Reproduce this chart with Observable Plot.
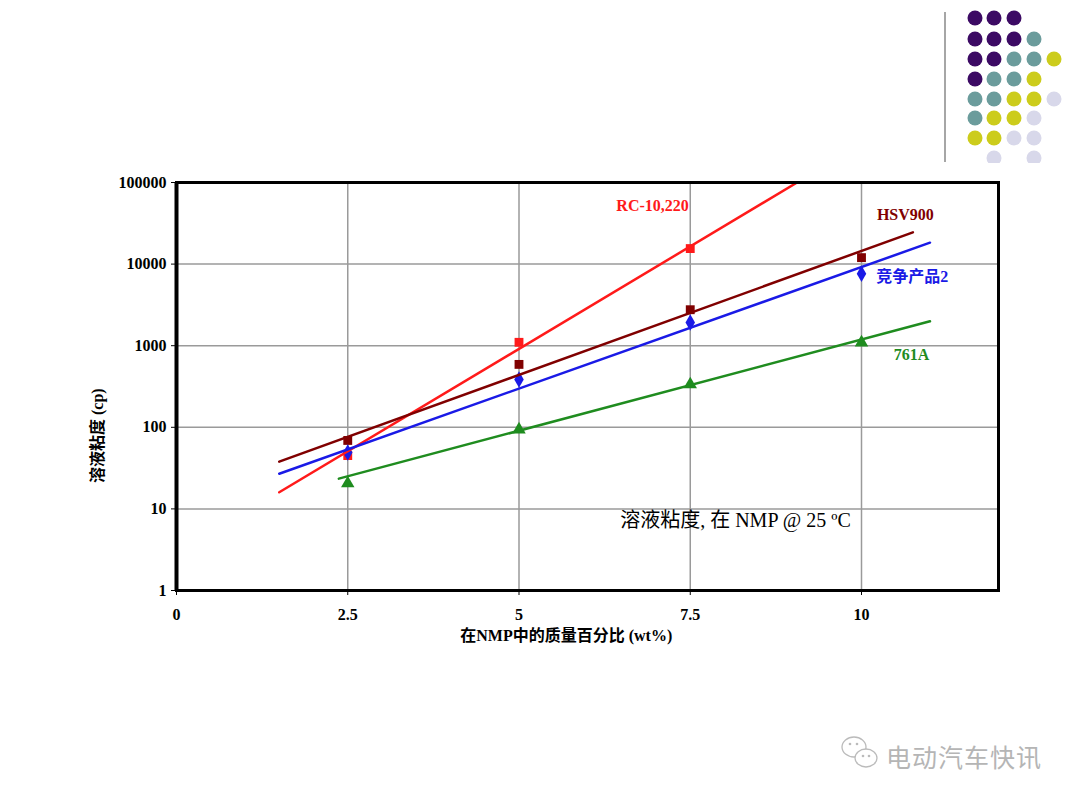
<!DOCTYPE html>
<html>
<head>
<meta charset="utf-8">
<script src="https://cdn.jsdelivr.net/npm/d3@7"></script>
<script src="https://cdn.jsdelivr.net/npm/@observablehq/plot@0.6"></script>
<style>
  html, body { margin: 0; padding: 0; background: #fff; }
  #wrap { position: relative; width: 1080px; height: 803px; overflow: hidden; }
  #chart { position: absolute; left: 0; top: 0; }
  #deco { position: absolute; left: 0; top: 0; }
  .wm { position: absolute; left: 886px; top: 738px; font-family: "Noto Sans CJK SC", sans-serif; font-size: 25px; color: #b5b5b5; letter-spacing: 1px; }
</style>
</head>
<body>
<div id="wrap">
  <div id="chart"></div>
  <svg id="deco" width="1080" height="803"></svg>
  <div class="wm">电动汽车快讯</div>
</div>
<script>
// ---- data ----
const xTicks = [0, 2.5, 5, 7.5, 10];
const yTicks = [1, 10, 100, 1000, 10000, 100000];
const concentration = [2.5, 5, 7.5, 10];

const seriesNames = ["RC-10,220", "HSV900", "竞争产品2", "761A"];
const seriesColors = ["#ff1a1a", "#800000", "#1a1ae6", "#1f8c1f"];
const seriesSymbols = ["square", "square", "diamond", "triangle"];

const rcValues = [45, 1100, 15500];           // RC-10,220 (no 10 wt% point)
const hsvValues = [69, 590, 2760, 12000];     // HSV900
const compValues = [49, 385, 1920, 7600];     // 竞争产品2
const a761Values = [20.5, 94, 335, 1090];     // 761A

// trend line endpoints
const rcTrendX = [1.5, 9.06];
const rcTrendY = [16, 100000];
const hsvTrendX = [1.5, 10.75];
const hsvTrendY = [38, 24500];
const compTrendX = [1.5, 11.0];
const compTrendY = [27, 18300];
const a761TrendX = [2.37, 11.0];
const a761TrendY = [23.5, 1990];

const labelX = [6.95, 10.64, 10.74, 10.73];
const labelY = [52000, 40500, 7050, 780];

// ---- build tables ----
const valueSets = [rcValues, hsvValues, compValues, a761Values];
const trendSets = [[rcTrendX, rcTrendY], [hsvTrendX, hsvTrendY], [compTrendX, compTrendY], [a761TrendX, a761TrendY]];
const points = [];
valueSets.forEach((vals, i) => vals.forEach((v, j) => points.push({series: seriesNames[i], x: concentration[j], y: v, symbol: seriesSymbols[i]})));
const trends = [];
trendSets.forEach(([xs, ys], i) => xs.forEach((x, j) => trends.push({series: seriesNames[i], x, y: ys[j]})));
const labels = seriesNames.map((s, i) => ({series: s, x: labelX[i], y: labelY[i]}));

const serif = "'Liberation Serif', 'Times New Roman', 'Noto Sans CJK SC', serif";

const chart = Plot.plot({
  width: 1080,
  height: 803,
  marginLeft: 176,
  marginRight: 82,
  marginTop: 182,
  marginBottom: 213,
  style: {fontFamily: serif, fontSize: "16px", fontWeight: "bold", color: "#000", background: "transparent"},
  x: {domain: [0, 12], ticks: xTicks, tickFormat: d => String(d)},
  y: {type: "log", domain: [1, 100000], ticks: yTicks, tickFormat: d => String(d)},
  color: {domain: seriesNames, range: seriesColors},
  symbol: {domain: seriesSymbols, range: seriesSymbols},
  marks: [
    Plot.gridX(concentration, {stroke: "#9a9a9a", strokeOpacity: 1, strokeWidth: 1.5}),
    Plot.gridY([10, 100, 1000, 10000], {stroke: "#9a9a9a", strokeOpacity: 1, strokeWidth: 1.5}),
    Plot.dot(points, {x: "x", y: "y", fill: "series", symbol: "symbol", r: 5, clip: true}),
    Plot.line(trends, {x: "x", y: "y", z: "series", stroke: "series", strokeWidth: 2.5, clip: true}),
    Plot.text(labels, {x: "x", y: "y", text: "series", fill: "series", fontSize: 16, fontWeight: "bold", textAnchor: "middle"}),
    Plot.text(["溶液粘度, 在 NMP @ 25 ºC"], {x: 8.16, y: 7.2, fontSize: 20, fontWeight: "normal", fill: "#000", textAnchor: "middle"}),
    Plot.axisY({ticks: yTicks, tickFormat: d => String(d), tickSize: 5, tickPadding: 5, label: null, fontSize: 16}),
    Plot.axisX({ticks: xTicks, tickFormat: d => String(d), tickSize: 5, tickPadding: 13, label: null, fontSize: 16}),
    Plot.text(["在NMP中的质量百分比 (wt%)"], {frameAnchor: "bottom", dy: 50, x: 5.69, fontSize: 16, fontWeight: "bold", fill: "#000", textAnchor: "middle"}),
    Plot.text(["溶液粘度 (cp)"], {frameAnchor: "left", dx: -79, y: 79, rotate: -90, fontSize: 16, fontWeight: "bold", fill: "#000", textAnchor: "middle"}),
    Plot.frame({stroke: "#000", strokeWidth: 3}),
    Plot.ruleX([0], {stroke: "#000", strokeWidth: 4})
  ]
});
document.getElementById("chart").appendChild(chart);

// ---- decorative dot grid (top right) ----
const decoCols = [975, 994, 1014, 1034, 1054];
const decoRows = [18, 39, 59, 79, 99, 118, 138, 158];
const decoPattern = [
  "PPP..",
  "PPPT.",
  "PPTTY",
  "PTTY.",
  "TTYYL",
  "TYYL.",
  "YYLL.",
  ".L.L."
];
const decoColors = {P: "#3c0a64", T: "#6b9c9c", Y: "#cccc1c", L: "#d8d8ea"};
const deco = d3.select("#deco");
deco.append("line").attr("x1", 945).attr("x2", 945).attr("y1", 12).attr("y2", 162).attr("stroke", "#888").attr("stroke-width", 1.5);
const clipId = "decoclip";
deco.append("clipPath").attr("id", clipId).append("rect").attr("x", 950).attr("y", 0).attr("width", 130).attr("height", 163);
decoPattern.forEach((row, ri) => row.split("").forEach((c, ci) => {
  if (c === ".") return;
  deco.append("circle").attr("cx", decoCols[ci]).attr("cy", decoRows[ri]).attr("r", 7.5)
    .attr("fill", decoColors[c]).attr("clip-path", `url(#${clipId})`);
}));
// watermark icon (speech bubbles)
const icon = deco.append("g").attr("fill", "none").attr("stroke", "#bbb").attr("stroke-width", 1.3);
icon.append("ellipse").attr("cx", 854).attr("cy", 747).attr("rx", 12).attr("ry", 10);
icon.append("ellipse").attr("cx", 866).attr("cy", 758).attr("rx", 11).attr("ry", 9).attr("fill", "#fff");
[[850,744],[857,744],[863,756],[869,756]].forEach(([x,y]) => deco.append("circle").attr("cx", x).attr("cy", y).attr("r", 1.3).attr("fill", "#bbb"));
</script>
</body>
</html>
